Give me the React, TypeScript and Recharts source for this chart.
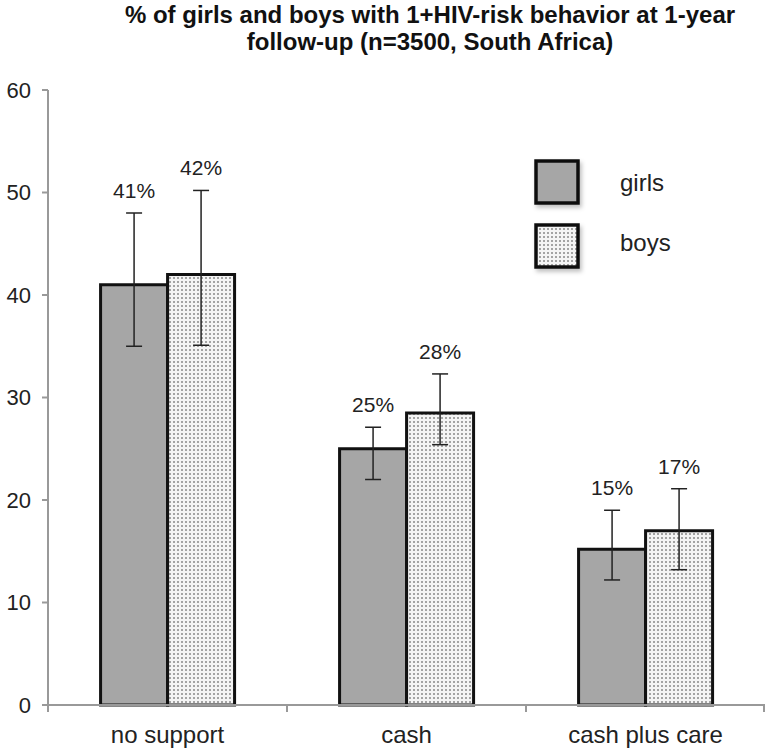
import React from "react";
import { BarChart, Bar, XAxis, YAxis, ErrorBar, LabelList } from "recharts";

const categories = ["no support", "cash", "cash plus care"];
const girls = [41, 25, 15.2];
const boys = [42, 28.5, 17];
const girlsLow = [35, 22, 12.2];
const girlsHigh = [48, 27.1, 19];
const boysLow = [35.1, 25.4, 13.2];
const boysHigh = [50.2, 32.3, 21.1];
const girlsLabels = ["41%", "25%", "15%"];
const boysLabels = ["42%", "28%", "17%"];
const yTicks = [0, 10, 20, 30, 40, 50, 60];
const legendItems = ["girls", "boys"];

const chartData = categories.map((c, i) => ({
  name: c,
  girls: girls[i],
  boys: boys[i],
  girlsErr: [girls[i] - girlsLow[i], girlsHigh[i] - girls[i]],
  boysErr: [boys[i] - boysLow[i], boysHigh[i] - boys[i]],
}));

const font = "'Liberation Sans', Arial, Helvetica, sans-serif";
const girlsFill = "#a6a6a6";
const W = 767;
const H = 754;
const yAxisW = 48;
const rightM = 2;
const step = (W - yAxisW - rightM) / categories.length;

function makeLabel(highs: number[], vals: number[], texts: string[]) {
  return (props: any) => {
    const { x, y, width, height, index } = props;
    const v = vals[index];
    const perUnit = height / v;
    const errTop = y - (highs[index] - v) * perUnit;
    return (
      <text
        x={x + width / 2}
        y={errTop - 15}
        textAnchor="middle"
        fontSize={21}
        fill="#222"
        fontFamily={font}
      >
        {texts[index]}
      </text>
    );
  };
}

// category label plus the tick marks at category boundaries
function CatTick(props: any) {
  const { x, y, payload, index } = props;
  const axisY = y - 8;
  return (
    <g>
      <line x1={x - step / 2} x2={x - step / 2} y1={axisY} y2={axisY + 7} stroke="#999" strokeWidth={2} />
      {index === categories.length - 1 && (
        <line x1={x + step / 2 - 1} x2={x + step / 2 - 1} y1={axisY} y2={axisY + 7} stroke="#999" strokeWidth={2} />
      )}
      <text x={x} y={axisY + 38} textAnchor="middle" fontSize={24} fill="#222" fontFamily={font}>
        {payload.value}
      </text>
    </g>
  );
}

function Dots({ id }: { id: string }) {
  return (
    <pattern id={id} width={4} height={4} patternUnits="userSpaceOnUse">
      <rect width={4} height={4} fill="#f4f4f4" />
      <circle cx={2} cy={2} r={1} fill="#888" />
    </pattern>
  );
}

function Shadow({ id }: { id: string }) {
  return (
    <filter id={id} x="-20%" y="-20%" width="150%" height="150%">
      <feDropShadow dx={2} dy={3} stdDeviation={2} floodColor="#000" floodOpacity={0.25} />
    </filter>
  );
}

function LegendBox() {
  return (
    <svg width={200} height={130} style={{ position: "absolute", left: 530, top: 155 }}>
      <defs>
        <Dots id="ldots" />
        <Shadow id="lshadow" />
      </defs>
      {legendItems.map((label, i) => (
        <g key={label}>
          <rect
            x={6}
            y={6 + i * 64}
            width={42}
            height={42}
            fill={i === 0 ? girlsFill : "url(#ldots)"}
            stroke="#111"
            strokeWidth={3.5}
            filter="url(#lshadow)"
          />
          <text x={90} y={36 + i * 60} fontSize={24} fill="#222" fontFamily={font}>
            {label}
          </text>
        </g>
      ))}
    </svg>
  );
}

export default function App() {
  return (
    <div style={{ position: "absolute", left: 0, top: 0, width: W, height: H, background: "#fff" }}>
      <svg width={W} height={60} style={{ position: "absolute", left: 0, top: 0 }}>
        <text x={430} y={23} textAnchor="middle" fontFamily={font} fontWeight="bold" fontSize={24} fill="#111">
          % of girls and boys with 1+HIV-risk behavior at 1-year
        </text>
        <text x={430} y={50} textAnchor="middle" fontFamily={font} fontWeight="bold" fontSize={24} fill="#111">
          follow-up (n=3500, South Africa)
        </text>
      </svg>
      <BarChart
        width={W}
        height={H}
        data={chartData}
        margin={{ top: 90, right: rightM, bottom: 0, left: 0 }}
        barCategoryGap="22%"
        barGap={0}
      >
        <defs>
          <Dots id="dots" />
        </defs>
        <XAxis
          dataKey="name"
          axisLine={{ stroke: "#999", strokeWidth: 2 }}
          tickLine={false}
          tickSize={6}
          tick={<CatTick />}
          height={49}
        />
        <YAxis
          domain={[0, 60]}
          ticks={yTicks}
          width={yAxisW}
          axisLine={{ stroke: "#999", strokeWidth: 2 }}
          tickLine={{ stroke: "#999", strokeWidth: 2 }}
          tickSize={6}
          tick={{ fontSize: 22, fill: "#222", fontFamily: font, dx: -9 }}
        />
        <Bar
          dataKey="girls"
          fill={girlsFill}
          stroke="#111"
          strokeWidth={3}
          isAnimationActive={false}
        >
          <ErrorBar dataKey="girlsErr" width={8} stroke="#222" strokeWidth={1.5} />
          <LabelList content={makeLabel(girlsHigh, girls, girlsLabels)} />
        </Bar>
        <Bar
          dataKey="boys"
          fill="url(#dots)"
          stroke="#111"
          strokeWidth={3}
          isAnimationActive={false}
        >
          <ErrorBar dataKey="boysErr" width={8} stroke="#222" strokeWidth={1.5} />
          <LabelList content={makeLabel(boysHigh, boys, boysLabels)} />
        </Bar>
      </BarChart>
      <LegendBox />
    </div>
  );
}
